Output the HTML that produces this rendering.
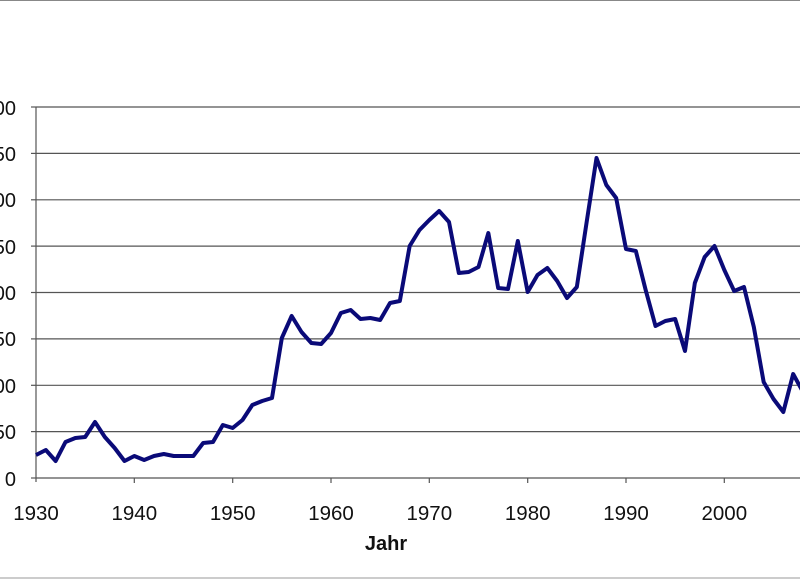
<!DOCTYPE html>
<html><head><style>
html,body{margin:0;padding:0;background:#fff;width:800px;height:579px;overflow:hidden}
svg text{font-family:"Liberation Sans",Arial,sans-serif}
</style></head><body>
<svg width="800" height="579" viewBox="0 0 800 579" xmlns="http://www.w3.org/2000/svg">
<rect x="0" y="0" width="800" height="579" fill="#fff"/>
<line x1="0" y1="0.5" x2="800" y2="0.5" stroke="#888" stroke-width="1"/>
<line x1="0" y1="578" x2="800" y2="578" stroke="#ccc" stroke-width="2"/>
<g stroke="#555" stroke-width="1.2">
<line x1="36" y1="107" x2="800" y2="107"/>
<line x1="36" y1="153.4" x2="800" y2="153.4"/>
<line x1="36" y1="199.8" x2="800" y2="199.8"/>
<line x1="36" y1="246.1" x2="800" y2="246.1"/>
<line x1="36" y1="292.5" x2="800" y2="292.5"/>
<line x1="36" y1="338.9" x2="800" y2="338.9"/>
<line x1="36" y1="385.3" x2="800" y2="385.3"/>
<line x1="36" y1="431.6" x2="800" y2="431.6"/>
<line x1="36" y1="478" x2="800" y2="478"/>
<line x1="36" y1="107" x2="36" y2="482"/>
<line x1="31" y1="107" x2="36" y2="107"/><line x1="31" y1="153.4" x2="36" y2="153.4"/>
<line x1="31" y1="199.8" x2="36" y2="199.8"/><line x1="31" y1="246.1" x2="36" y2="246.1"/>
<line x1="31" y1="292.5" x2="36" y2="292.5"/><line x1="31" y1="338.9" x2="36" y2="338.9"/>
<line x1="31" y1="385.3" x2="36" y2="385.3"/><line x1="31" y1="431.6" x2="36" y2="431.6"/>
<line x1="31" y1="478" x2="36" y2="478"/>
<line x1="134.3" y1="478" x2="134.3" y2="483"/><line x1="232.7" y1="478" x2="232.7" y2="483"/>
<line x1="331" y1="478" x2="331" y2="483"/><line x1="429.3" y1="478" x2="429.3" y2="483"/>
<line x1="527.7" y1="478" x2="527.7" y2="483"/><line x1="626" y1="478" x2="626" y2="483"/>
<line x1="724.3" y1="478" x2="724.3" y2="483"/>
</g>
<g font-size="20" fill="#111" text-anchor="end">
<text x="16" y="115">400</text><text x="16" y="161">350</text><text x="16" y="207">300</text>
<text x="16" y="254">250</text><text x="16" y="300">200</text><text x="16" y="346">150</text>
<text x="16" y="393">100</text><text x="16" y="439">50</text><text x="16" y="486">0</text>
</g>
<g font-size="20.5" fill="#111" text-anchor="middle">
<text x="36" y="520">1930</text><text x="134.3" y="520">1940</text><text x="232.7" y="520">1950</text>
<text x="331" y="520">1960</text><text x="429.3" y="520">1970</text><text x="527.7" y="520">1980</text>
<text x="626" y="520">1990</text><text x="724.3" y="520">2000</text><text x="822.6" y="520">2010</text>
</g>
<text x="386" y="550" font-size="20" font-weight="bold" text-anchor="middle" fill="#111">Jahr</text>
<g transform="translate(36,0) scale(9.8333,1)">
<polyline fill="none" stroke="#0a0a78" stroke-width="4" stroke-linejoin="round" vector-effect="non-scaling-stroke"
points="0,455 1,450 2,461 3,442 4,438 5,437 6,422 7,437 8,448 9,461 10,456 11,460 12,456 13,454 14,456 15,456 16,456 17,443 18,442 19,425 20,428 21,420 22,405 23,401 24,398 25,338 26,316 27,332 28,343 29,344 30,333 31,313 32,310 33,319 34,318 35,320 36,303 37,301 38,246 39,230 40,220 41,211 42,222 43,273 44,272 45,267 46,233 47,288 48,289 49,241 50,292 51,275 52,268 53,281 54,298 55,287 56,222 57,158 58,185 59,198 60,249 61,251 62,290 63,326 64,321 65,319 66,351 67,283 68,257 69,246 70,270 71,291 72,287 73,327 74,382 75,399 76,412 77,374 78,392"/>
</g>
</svg>
</body></html>
